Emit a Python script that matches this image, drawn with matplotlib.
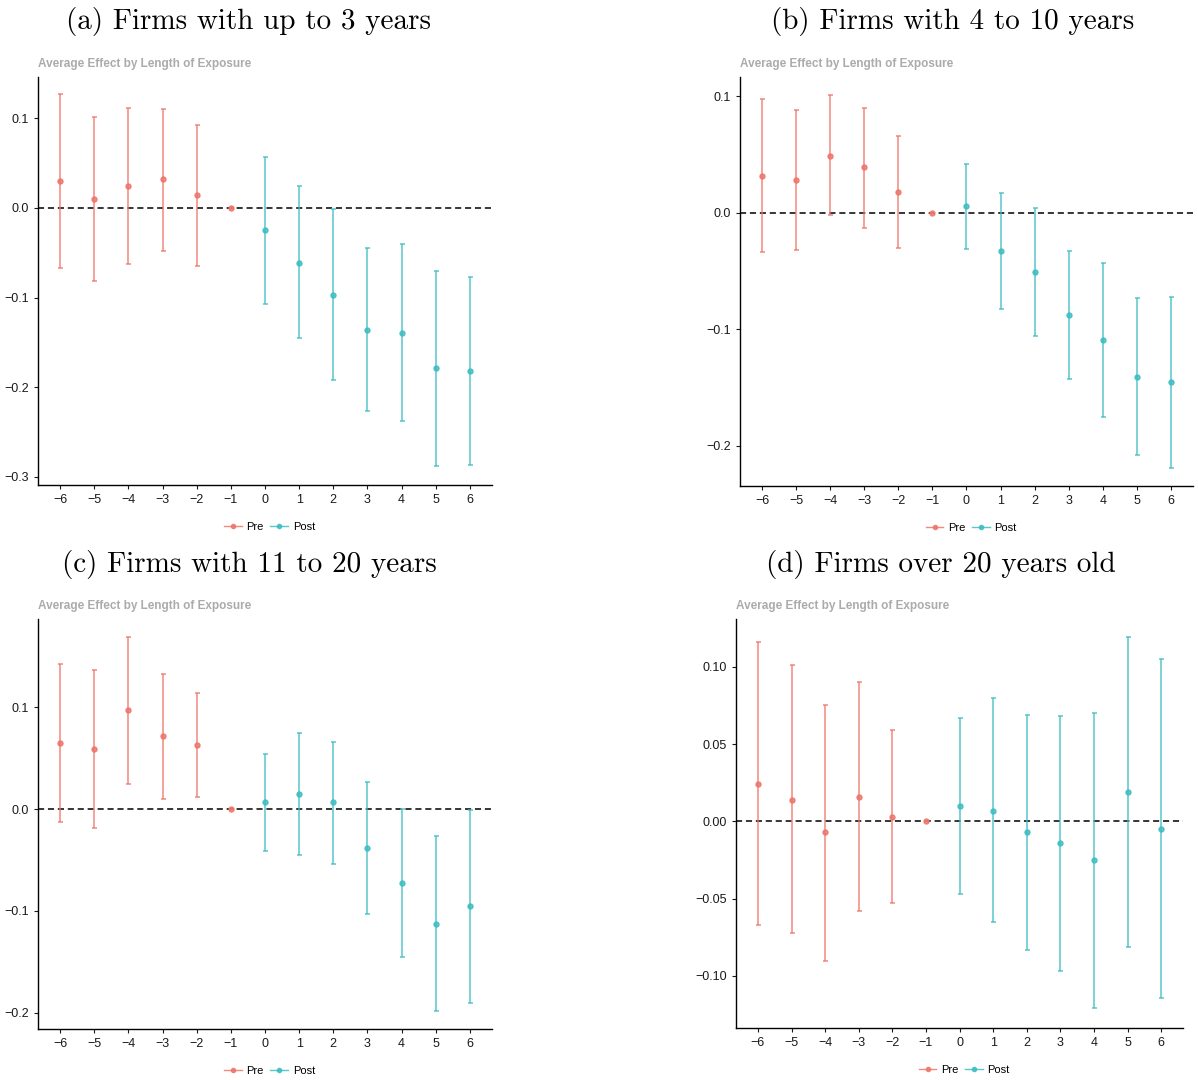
import numpy as np
import matplotlib.pyplot as plt
from matplotlib.lines import Line2D
from matplotlib.ticker import FuncFormatter

# event time (years relative to exposure)
event = list(range(-6, 7))

# (a) Firms with up to 3 years
a_est = [0.030, 0.010, 0.024, 0.032, 0.014, 0.0, -0.025, -0.061, -0.097, -0.136, -0.139, -0.179, -0.182]
a_lo = [-0.067, -0.082, -0.062, -0.048, -0.065, 0.0, -0.107, -0.145, -0.192, -0.227, -0.238, -0.288, -0.287]
a_hi = [0.127, 0.101, 0.111, 0.110, 0.092, 0.0, 0.057, 0.024, -0.001, -0.045, -0.040, -0.070, -0.077]

# (b) Firms with 4 to 10 years
b_est = [0.032, 0.028, 0.049, 0.039, 0.018, 0.0, 0.006, -0.033, -0.051, -0.088, -0.109, -0.141, -0.145]
b_lo = [-0.034, -0.032, -0.002, -0.013, -0.030, 0.0, -0.031, -0.083, -0.106, -0.143, -0.175, -0.208, -0.219]
b_hi = [0.098, 0.088, 0.101, 0.090, 0.066, 0.0, 0.042, 0.017, 0.004, -0.033, -0.043, -0.073, -0.072]

# (c) Firms with 11 to 20 years
c_est = [0.065, 0.059, 0.097, 0.072, 0.063, 0.0, 0.007, 0.015, 0.007, -0.038, -0.073, -0.113, -0.095]
c_lo = [-0.013, -0.019, 0.025, 0.010, 0.012, 0.0, -0.041, -0.045, -0.054, -0.103, -0.145, -0.198, -0.190]
c_hi = [0.142, 0.137, 0.169, 0.133, 0.114, 0.0, 0.054, 0.075, 0.066, 0.027, 0.0, -0.026, -0.001]

# (d) Firms over 20 years old
d_est = [0.024, 0.014, -0.007, 0.016, 0.003, 0.0, 0.010, 0.007, -0.007, -0.014, -0.025, 0.019, -0.005]
d_lo = [-0.067, -0.072, -0.090, -0.058, -0.053, 0.0, -0.047, -0.065, -0.083, -0.097, -0.121, -0.081, -0.114]
d_hi = [0.116, 0.101, 0.075, 0.090, 0.059, 0.0, 0.067, 0.080, 0.069, 0.068, 0.070, 0.119, 0.105]

titles = ["(a) Firms with up to 3 years", "(b) Firms with 4 to 10 years",
          "(c) Firms with 11 to 20 years", "(d) Firms over 20 years old"]

pre_col = "#EE7468"
post_col = "#3CBDC2"

fig = plt.figure(figsize=(11.98, 10.8), dpi=100)

# axes boxes [left, bottom, width, height] in figure fractions
boxes = [[0.0317, 0.5509, 0.3790, 0.3778],
         [0.6177, 0.5500, 0.3781, 0.3787],
         [0.0317, 0.0472, 0.3790, 0.3796],
         [0.6144, 0.0481, 0.3731, 0.3787]]
ylims = [(-0.309, 0.146), (-0.2347, 0.1167), (-0.216, 0.1866), (-0.1337, 0.1309)]
yticks = [[-0.3, -0.2, -0.1, 0.0, 0.1], [-0.2, -0.1, 0.0, 0.1],
          [-0.2, -0.1, 0.0, 0.1], [-0.10, -0.05, 0.0, 0.05, 0.10]]
ydec = [1, 1, 1, 2]
title_pos = [(0.2078, 0.980), (0.795, 0.980), (0.2083, 0.477), (0.785, 0.477)]

data = [(a_est, a_lo, a_hi), (b_est, b_lo, b_hi), (c_est, c_lo, c_hi), (d_est, d_lo, d_hi)]

sans = 'Liberation Sans'

for i, (est, lo, hi) in enumerate(data):
    ax = fig.add_axes(boxes[i])
    x = np.array(event)
    est = np.array(est); lo = np.array(lo); hi = np.array(hi)
    for mask, col in [(x < 0, pre_col), (x >= 0, post_col)]:
        ax.errorbar(x[mask], est[mask], yerr=[est[mask] - lo[mask], hi[mask] - est[mask]],
                    fmt='o', color=col, ms=3.6, elinewidth=1.1, capsize=1.8, capthick=1.1,
                    alpha=0.85, zorder=3)
    ax.axhline(0, color='black', lw=1.1, ls=(0, (4, 2.5)), zorder=2)
    ax.set_xlim(-6.65, 6.65)
    ax.set_ylim(*ylims[i])
    ax.set_xticks(event)
    ax.set_yticks(yticks[i])
    d = ydec[i]
    ax.yaxis.set_major_formatter(FuncFormatter(
        lambda v, p, d=d: (f"{v:.{d}f}" if abs(v) > 1e-9 else f"{0:.{d}f}").replace('-', '\u2212')))
    ax.xaxis.set_major_formatter(FuncFormatter(lambda v, p: f"{int(v)}".replace('-', '\u2212')))
    for s in ['top', 'right']:
        ax.spines[s].set_visible(False)
    for s in ['left', 'bottom']:
        ax.spines[s].set_linewidth(1.0)
    ax.tick_params(labelsize=9, length=3, width=0.8, colors='#1a1a1a')
    for lab in ax.get_xticklabels() + ax.get_yticklabels():
        lab.set_family(sans)
    ax.text(0.0, 1.032, "Average Effect by Length of Exposure", transform=ax.transAxes,
            fontsize=8.5, fontweight='bold', color='#ababab', family=sans, va='center')
    handles = [Line2D([], [], color=pre_col, marker='o', ms=3, lw=1, alpha=0.85),
               Line2D([], [], color=post_col, marker='o', ms=3, lw=1, alpha=0.85)]
    ax.legend(handles, ["Pre", "Post"], loc='center', bbox_to_anchor=(0.51, -0.103),
              ncol=2, frameon=False, prop={'family': sans, 'size': 8}, handlelength=1.6,
              columnspacing=0.6, handletextpad=0.4)
    fig.text(title_pos[i][0], title_pos[i][1], titles[i], family='cmr10', fontsize=21,
             ha='center', va='center')

fig.savefig("out.png", dpi=100)
